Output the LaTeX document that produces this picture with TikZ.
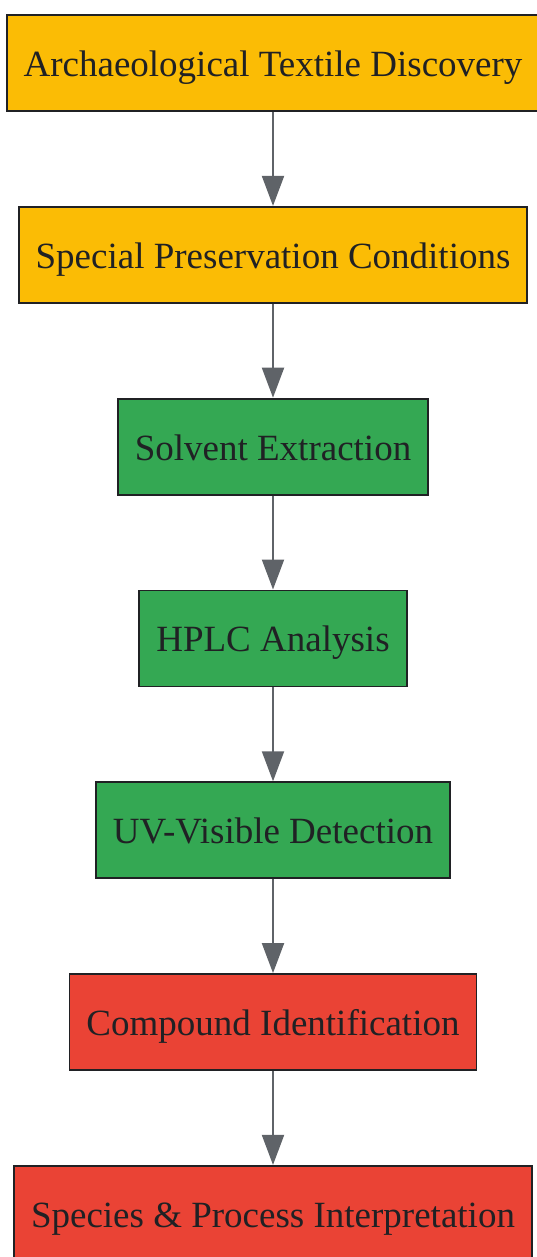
\documentclass[tikz,border=0pt]{standalone}
\usepackage{fontspec}
\setmainfont{Liberation Serif}
\usepackage{tikz}
\usetikzlibrary{positioning,arrows.meta}

\definecolor{gyellow}{HTML}{FBBC05}
\definecolor{ggreen}{HTML}{34A853}
\definecolor{gred}{HTML}{EA4335}
\definecolor{gline}{HTML}{5F6368}
\definecolor{gtext}{HTML}{202124}

\begin{document}
\begin{tikzpicture}[x=1pt, y=1pt, node distance=94pt,
                    every node/.style={rectangle, draw=gtext, line width=1.8pt,
                            text=gtext, minimum height=96pt, inner xsep=17pt,
                            text height=27pt, text depth=0pt,
                            font=\fontsize{37}{44}\selectfont},
                    flow/.style={draw=gline, line width=2pt,
                            -{Triangle[width=22pt,length=30pt]}}]
                \useasboundingbox (0,0) rectangle (536,-1257);
                \node[fill=gyellow] (discovery) at (273,-63) {Archaeological Textile Discovery};
                \node[fill=gyellow, below=of discovery] (preservation) {Special Preservation Conditions};
                \node[fill=ggreen, below=of preservation] (extraction) {Solvent Extraction};
                \node[fill=ggreen, below=of extraction] (hplc) {HPLC Analysis};
                \node[fill=ggreen, below=of hplc] (uvvis) {UV-Visible Detection};
                \node[fill=gred, below=of uvvis] (compound) {Compound Identification};
                \node[fill=gred, below=of compound] (interpretation) {Species \& Process Interpretation};

                \foreach \i/\j in {discovery/preservation, preservation/extraction,
                        extraction/hplc, hplc/uvvis, uvvis/compound,
                        compound/interpretation} {
                        \draw[flow] (\i) -- (\j);
                    }
            \end{tikzpicture}
\end{document}
